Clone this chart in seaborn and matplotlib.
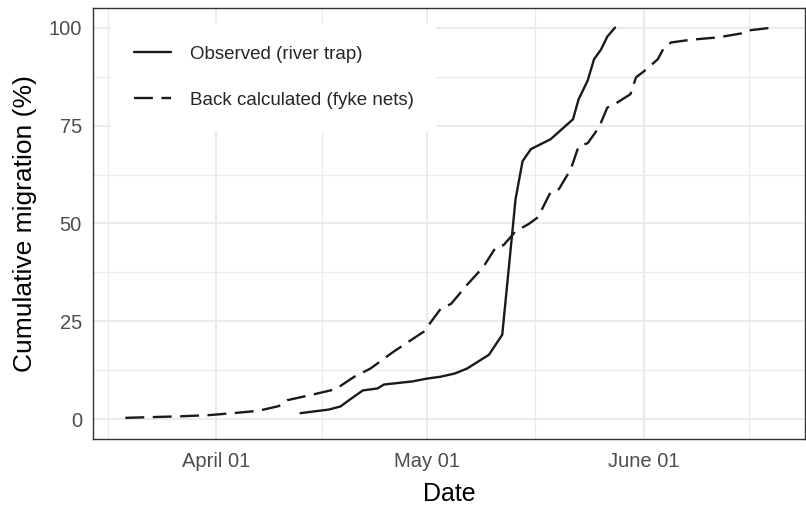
import numpy as np
import pandas as pd
import matplotlib
matplotlib.use("Agg")
import matplotlib.pyplot as plt
import matplotlib.dates as mdates
from matplotlib.ticker import FixedLocator
import seaborn as sns

# ---------------------------------------------------------
# Data (days counted from April 01, cumulative %)
# ---------------------------------------------------------
START = pd.Timestamp("2019-04-01")

obs_day = [12.0, 16.0, 17.7, 19.0, 20.9, 23.0, 23.9, 28.0, 30.0, 32.0, 34.0,
           35.8, 38.9, 40.8, 42.7, 43.7, 44.9, 47.7, 50.9, 51.7, 53.0,
           53.9, 54.9, 55.8, 56.9]
obs_pct = [1.6, 2.5, 3.3, 5.0, 7.4, 7.9, 8.9, 9.7, 10.4, 10.9, 11.7,
           13.0, 16.5, 21.6, 56.2, 65.9, 69.0, 71.5, 76.6, 81.7, 86.5,
           91.9, 94.4, 97.7, 100.0]

back_day = [-13.0, -9.0, -5.0, -1.0, 3.0, 6.0, 8.9, 10.1, 13.4, 17.0, 19.6,
            22.0, 25.3, 29.6, 32.0, 33.5, 35.9, 38.1, 39.9, 41.0, 42.7, 44.6,
            45.9, 47.7, 48.9, 50.6, 51.7, 53.0, 54.6, 55.8, 56.8, 59.1, 59.9,
            61.0, 63.0, 63.9, 64.9, 67.7, 71.6, 74.9, 75.6, 79.4]
back_pct = [0.4, 0.6, 0.8, 1.1, 1.7, 2.2, 3.4, 4.9, 6.2, 7.7, 10.8,
            13.0, 17.3, 22.4, 28.2, 29.5, 34.6, 38.9, 44.0, 44.5, 48.0, 49.9,
            51.6, 58.0, 58.8, 63.9, 69.7, 70.5, 74.5, 79.6, 80.4, 83.0, 87.3,
            88.8, 91.9, 94.9, 96.2, 96.9, 97.5, 98.5, 99.2, 100.0]

y_breaks = [0, 25, 50, 75, 100]
month_starts = ["2019-03-01", "2019-04-01", "2019-05-01", "2019-06-01", "2019-07-01"]

obs_dates = START + pd.to_timedelta(obs_day, unit="D")
back_dates = START + pd.to_timedelta(back_day, unit="D")

# ---------------------------------------------------------
# Style (ggplot theme_bw look)
# ---------------------------------------------------------
sns.set_theme(style="white")
plt.rcParams["font.family"] = ["Liberation Sans", "DejaVu Sans"]

GRID = "#EBEBEB"
BORDER = "#333333"
LINE = "#1A1A1A"

fig = plt.figure(figsize=(8.06, 5.07), dpi=100)
ax = fig.add_axes([93 / 806, (507 - 439) / 507, 712 / 806, 431 / 507])

sns.lineplot(x=obs_dates, y=obs_pct, ax=ax, color=LINE, linewidth=1.7,
             label="Observed (river trap)")
sns.lineplot(x=back_dates, y=back_pct, ax=ax, color=LINE, linewidth=1.7,
             linestyle=(0, (8.0, 3.6)), label="Back calculated (fyke nets)")

# limits with ggplot-like 5% expansion
all_dates = mdates.date2num(list(obs_dates) + list(back_dates))
lo, hi = all_dates.min(), all_dates.max()
pad = 0.05 * (hi - lo)
ax.set_xlim(lo - pad, hi + pad)
ax.set_ylim(-5, 105)

# ticks and grid
ax.set_yticks(y_breaks)
ax.yaxis.set_minor_locator(FixedLocator(np.array(y_breaks[:-1]) + 12.5))
ms = mdates.date2num(pd.to_datetime(month_starts))
ax.xaxis.set_major_locator(FixedLocator(ms))
ax.xaxis.set_minor_locator(FixedLocator((ms[:-1] + ms[1:]) / 2))
ax.xaxis.set_major_formatter(mdates.DateFormatter("%B %d"))

ax.grid(True, which="major", color=GRID, linewidth=1.5)
ax.grid(True, which="minor", color=GRID, linewidth=0.9)
ax.set_axisbelow(True)

ax.tick_params(axis="both", which="major", length=5, width=1.0, color=BORDER,
               labelsize=14.5, labelcolor="#4D4D4D")
ax.tick_params(axis="x", which="major", pad=4.5)
ax.tick_params(axis="y", which="major", pad=3)
ax.tick_params(axis="both", which="minor", length=0)

for side in ax.spines.values():
    side.set_color(BORDER)
    side.set_linewidth(1.0)

ax.set_xlabel("Date", fontsize=18, color="black", labelpad=8)
ax.set_ylabel("Cumulative migration (%)", fontsize=19, color="black", labelpad=8)

# legend inside, top-left, white box without frame
leg = ax.legend(
    loc="upper left",
    bbox_to_anchor=((111 - 93) / 712, (439 - 23) / 431),
    borderaxespad=0,
    frameon=True,
    fancybox=False,
    framealpha=1,
    edgecolor="white",
    fontsize=13.5,
    handlelength=2.0,
    handletextpad=1.0,
    labelspacing=1.55,
    borderpad=1.2,
)
leg.get_frame().set_linewidth(0)

fig.savefig("out.png", dpi=100)
